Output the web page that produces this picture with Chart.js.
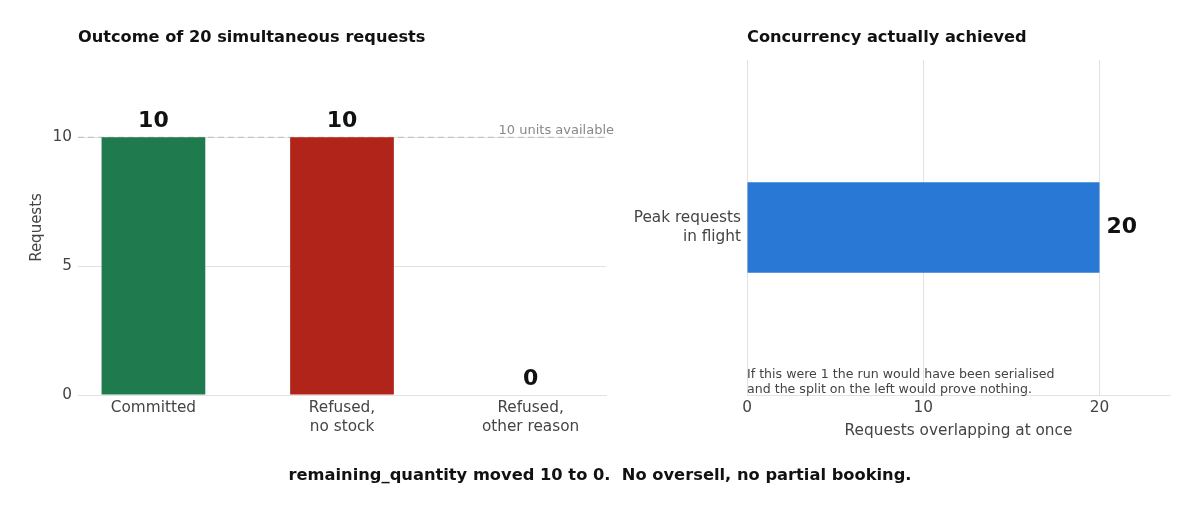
<!DOCTYPE html>
<html>
<head>
<meta charset="utf-8">
<script src="https://cdn.jsdelivr.net/npm/chart.js@4.4.1/dist/chart.umd.min.js"></script>
<style>
  html,body{margin:0;padding:0;background:#fff;font-family:"DejaVu Sans",sans-serif;}
  #wrap{position:relative;width:1200px;height:516px;overflow:hidden;}
  .box{position:absolute;top:0;height:516px;}
  .ttl{position:absolute;top:27px;font-weight:bold;font-size:16.2px;color:#111;white-space:nowrap;}
  #foot{position:absolute;left:0;width:1200px;top:465px;text-align:center;font-weight:bold;font-size:16.3px;color:#111;}
</style>
</head>
<body>
<div id="wrap">
  <div class="box" style="left:0;width:620px"><canvas id="outcome"></canvas></div>
  <div class="box" style="left:620px;width:580px"><canvas id="concurrency"></canvas></div>
  <div class="ttl" style="left:78px">Outcome of 20 simultaneous requests</div>
  <div class="ttl" style="left:747px">Concurrency actually achieved</div>
  <div id="foot">remaining_quantity moved 10 to 0.&nbsp; No oversell, no partial booking.</div>
</div>
<script>
// left panel
const outcomeLabels = [['Committed'], ['Refused,', 'no stock'], ['Refused,', 'other reason']];
const outcomeValues = [10, 10, 0];
const outcomeColors = ['#1f7a4d', '#b0241a', '#7f7f7f'];
const unitsAvailable = 10;

// right panel
const concLabels = [['Peak requests', 'in flight']];
const concValues = [20];
const concNote = ['If this were 1 the run would have been serialised', 'and the split on the left would prove nothing.'];

const FONT = '"DejaVu Sans", sans-serif';
const GRID = '#e2e2e2';
const TXT = '#444';

// value labels above/after the bars
const valueLabels = {
  id:'valueLabels',
  afterDatasetsDraw(chart){
    const ctx = chart.ctx, meta = chart.getDatasetMeta(0);
    const horiz = chart.options.indexAxis === 'y';
    ctx.save();
    ctx.font = 'bold 22px ' + FONT;
    ctx.fillStyle = '#111';
    meta.data.forEach((bar,i)=>{
      const v = chart.data.datasets[0].data[i];
      const val = typeof v === 'object' ? v.y : v;
      if(horiz){
        ctx.textAlign='left'; ctx.textBaseline='middle';
        ctx.fillText(String(val), bar.x + 7, bar.y);
      } else {
        ctx.textAlign='center'; ctx.textBaseline='middle';
        ctx.fillText(String(val), bar.x, bar.y - 16);
      }
    });
    ctx.restore();
  }
};

const capacityLine = {
  id:'capacityLine',
  beforeDatasetsDraw(chart){
    const {ctx, chartArea:a, scales:{y}} = chart;
    const py = y.getPixelForValue(unitsAvailable);
    ctx.save();
    ctx.strokeStyle = '#c4c4c4'; ctx.lineWidth = 1.3; ctx.setLineDash([6,4]);
    ctx.beginPath(); ctx.moveTo(a.left, py); ctx.lineTo(a.right, py); ctx.stroke();
    ctx.setLineDash([]);
    ctx.font = '13px ' + FONT; ctx.fillStyle = '#888';
    ctx.textAlign = 'right'; ctx.textBaseline = 'alphabetic';
    ctx.fillText(unitsAvailable + ' units available', a.right + 8, py - 3);
    ctx.restore();
  }
};

const noteText = {
  id:'noteText',
  afterDatasetsDraw(chart){
    const {ctx, chartArea:a} = chart;
    ctx.save();
    ctx.font = '12.6px ' + FONT; ctx.fillStyle = TXT;
    ctx.textAlign='left'; ctx.textBaseline='middle';
    concNote.forEach((l,i)=>ctx.fillText(l, a.left, a.bottom - 20 + i*15));
    ctx.restore();
  }
};

new Chart(document.getElementById('outcome'), {
  type:'bar',
  data:{ datasets:[{
    data: outcomeValues.map((v,i)=>({x:i, y:v})),
    backgroundColor: outcomeColors,
    borderWidth:0,
    categoryPercentage:1, barPercentage:0.55
  }]},
  options:{
    responsive:true, maintainAspectRatio:false, animation:false,
    layout:{ padding:{ top:60, right:14, bottom:61, left:0 } },
    plugins:{ legend:{display:false}, tooltip:{enabled:false} },
    scales:{
      x:{ type:'linear', min:-0.4, max:2.4, offset:false,
        afterBuildTicks:(s)=>{ s.ticks = outcomeLabels.map((_,i)=>({value:i})); },
        afterFit:(s)=>{ s.height = 60; },
        grid:{ display:false, drawTicks:false },
        border:{ display:true, color:GRID, width:1 },
        ticks:{ padding:4, color:TXT, font:{family:FONT,size:15.3}, maxRotation:0, autoSkip:false,
          callback:(v)=>outcomeLabels[v] } },
      y:{ min:0, max:13,
        afterBuildTicks:(s)=>{ s.ticks = [0,5,10].map(v=>({value:v})); },
        afterFit:(s)=>{ s.width = 78; },
        grid:{ color:GRID, drawTicks:false },
        border:{ display:false },
        ticks:{ padding:6, color:TXT, font:{family:FONT,size:15.3} },
        title:{ display:true, text:'Requests', color:TXT, font:{family:FONT,size:15}, padding:{top:28,bottom:0} } }
    }
  },
  plugins:[capacityLine, valueLabels]
});

new Chart(document.getElementById('concurrency'), {
  type:'bar',
  data:{ labels: concLabels, datasets:[{
    data: concValues,
    backgroundColor:'#2a78d6',
    borderWidth:0,
    categoryPercentage:1, barPercentage:0.27
  }]},
  options:{
    indexAxis:'y',
    responsive:true, maintainAspectRatio:false, animation:false,
    layout:{ padding:{ top:60, right:30, bottom:76, left:0 } },
    plugins:{ legend:{display:false}, tooltip:{enabled:false} },
    scales:{
      x:{ min:0, max:24,
        afterBuildTicks:(s)=>{ s.ticks = [0,10,20].map(v=>({value:v})); },
        afterFit:(s)=>{ s.height = 45; },
        grid:{ color:GRID, drawTicks:false },
        border:{ display:true, color:GRID },
        ticks:{ padding:4, color:TXT, font:{family:FONT,size:15.3} },
        title:{ display:true, text:'Requests overlapping at once', color:TXT, font:{family:FONT,size:15.3}, padding:{top:4,bottom:0} } },
      y:{
        afterFit:(s)=>{ s.width = 127; },
        grid:{ display:false, drawTicks:false },
        border:{ display:false },
        ticks:{ padding:6, color:TXT, font:{family:FONT,size:15.3} } }
    }
  },
  plugins:[valueLabels, noteText]
});
</script>
</body>
</html>
